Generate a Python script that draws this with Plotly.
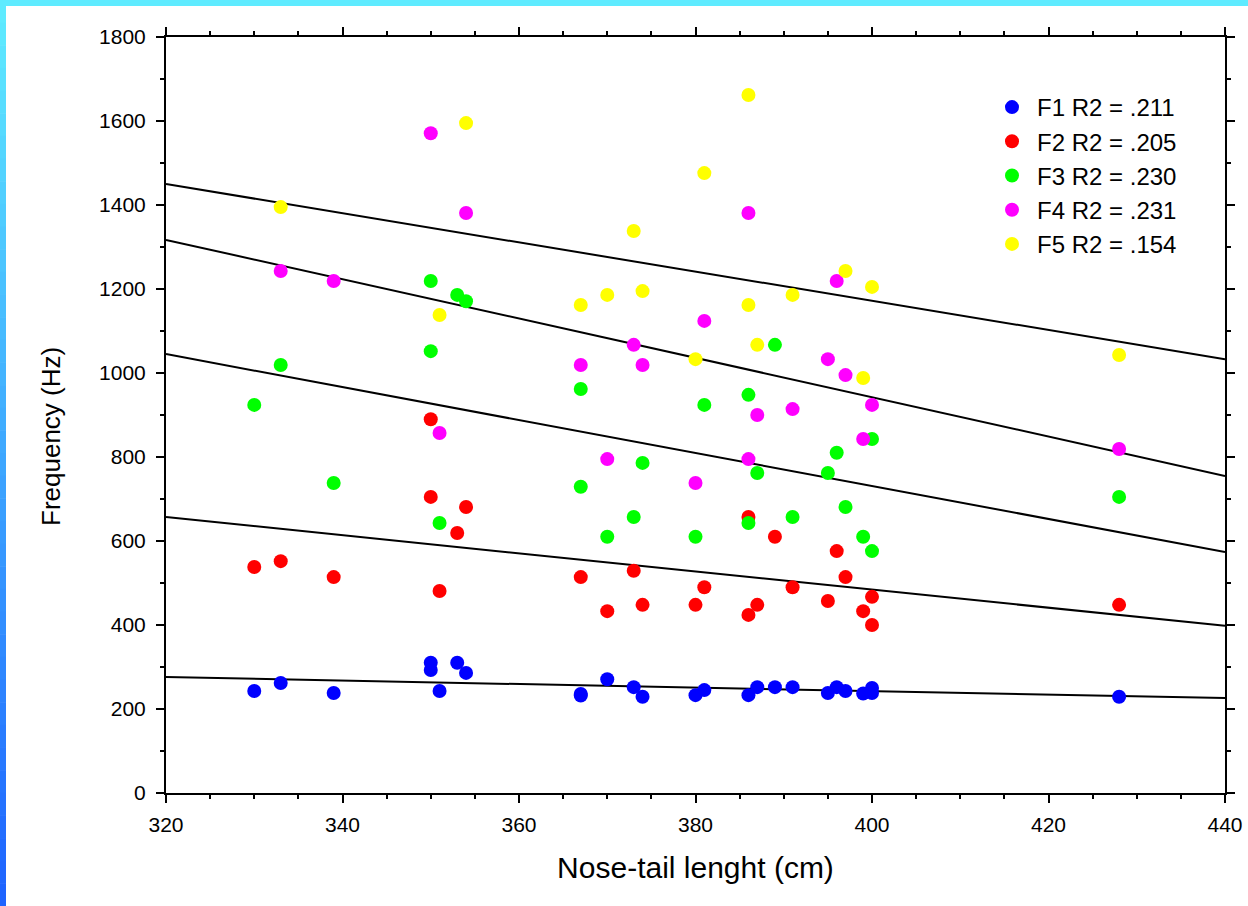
import plotly.graph_objects as go

# ---- data ----
length_cm = {
    "F1": [330, 333, 339, 350, 350, 351, 353, 354, 367, 367, 370, 373, 374, 380, 381,
           386, 387, 389, 391, 395, 396, 397, 399, 400, 400, 428],
    "F2": [330, 333, 339, 350, 350, 351, 353, 354, 367, 370, 373, 374, 380, 381, 386,
           386, 387, 389, 391, 395, 396, 397, 399, 400, 400, 428],
    "F3": [330, 333, 339, 350, 350, 351, 353, 354, 367, 367, 370, 373, 374, 380, 381,
           386, 386, 387, 389, 391, 395, 396, 397, 399, 400, 400, 428],
    "F4": [333, 339, 350, 351, 354, 367, 370, 373, 374, 380, 381, 386, 386, 387, 391,
           395, 396, 397, 399, 400, 428],
    "F5": [333, 351, 354, 367, 370, 373, 374, 380, 381, 386, 386, 387, 391, 397, 399,
           400, 428],
}
freq_hz = {
    "F1": [243, 262, 238, 310, 293, 243, 310, 286, 236, 232, 271, 252, 229, 233, 245,
           233, 252, 252, 252, 238, 252, 243, 237, 250, 238, 229],
    "F2": [538, 552, 514, 890, 705, 481, 619, 681, 514, 433, 529, 448, 448, 490, 424,
           657, 448, 610, 490, 457, 576, 514, 433, 467, 400, 448],
    "F3": [924, 1019, 738, 1219, 1052, 643, 1186, 1171, 962, 729, 610, 657, 786, 610, 924,
           948, 643, 762, 1067, 657, 762, 810, 681, 610, 843, 576, 705],
    "F4": [1243, 1219, 1571, 857, 1381, 1019, 795, 1067, 1019, 738, 1124, 1381, 795, 900, 914,
           1033, 1219, 995, 843, 924, 819],
    "F5": [1395, 1138, 1595, 1162, 1186, 1338, 1195, 1033, 1476, 1662, 1162, 1067, 1186, 1243, 988,
           1205, 1043],
}
r2_labels = {"F1": ".211", "F2": ".205", "F3": ".230", "F4": ".231", "F5": ".154"}
# regression lines: fitted frequency at both ends of the x range
fit_x = [320, 440]
fit_y = {
    "F1": [276, 226],
    "F2": [657, 398],
    "F3": [1045, 574],
    "F4": [1317, 755],
    "F5": [1450, 1033],
}
formants = ["F1", "F2", "F3", "F4", "F5"]
colors = {"F1": "#0000ff", "F2": "#ff0000", "F3": "#00ff00", "F4": "#ff00ff", "F5": "#ffff00"}

FONT = "Liberation Sans, Arial, sans-serif"

fig = go.Figure()
for f in formants:
    fig.add_trace(go.Scatter(x=fit_x, y=fit_y[f], mode="lines",
                             line=dict(color="black", width=2),
                             showlegend=False, hoverinfo="skip"))
for f in formants:
    fig.add_trace(go.Scatter(x=length_cm[f], y=freq_hz[f], mode="markers",
                             name=f"{f} R2 = {r2_labels[f]}",
                             marker=dict(color=colors[f], size=14, line=dict(width=0))))

W, H = 1248, 906
L, R, T, B = 166, 23, 37, 113
pw, ph = W - L - R, H - T - B


def px_x(p):
    return (p - L) / pw


def px_y(p):
    return (H - B - p) / ph


shapes = []
# top cyan band
shapes.append(dict(type="rect", xref="paper", yref="paper",
                   x0=px_x(0), x1=px_x(W), y0=px_y(6), y1=px_y(0),
                   fillcolor="#5eebff", line=dict(width=0), layer="above"))
# left gradient band (cyan at top to blue at bottom)
n = 40
top_c = (94, 235, 255)
bot_c = (30, 100, 255)
for i in range(n):
    t = i / (n - 1)
    c = tuple(int(round(top_c[k] + (bot_c[k] - top_c[k]) * t)) for k in range(3))
    y0p = H * i / n
    y1p = H * (i + 1) / n
    shapes.append(dict(type="rect", xref="paper", yref="paper",
                       x0=px_x(0), x1=px_x(6), y0=px_y(y1p + 0.5), y1=px_y(y0p),
                       fillcolor="rgb(%d,%d,%d)" % c, line=dict(width=0), layer="above"))

axis_common = dict(
    showgrid=False, zeroline=False, showline=True, linecolor="black", linewidth=2,
    mirror="ticks", ticks="outside", ticklen=8, tickwidth=1.5, tickcolor="black",
    tickfont=dict(family=FONT, size=21, color="black"),
)

fig.update_layout(
    width=W, height=H,
    margin=dict(l=L, r=R, t=T, b=B, autoexpand=False),
    paper_bgcolor="white", plot_bgcolor="white",
    font=dict(family=FONT, color="black"),
    xaxis=dict(range=[320, 440], dtick=20, tick0=320,
               minor=dict(dtick=5, ticks="outside", ticklen=4, tickwidth=1.5, tickcolor="black"),
               title=dict(text="Nose-tail lenght (cm)", font=dict(family=FONT, size=30), standoff=22),
               ticklabelstandoff=4,
               **axis_common),
    yaxis=dict(range=[0, 1800], dtick=200, tick0=0,
               minor=dict(dtick=100, ticks="outside", ticklen=4, tickwidth=1.5, tickcolor="black"),
               ticklabelstandoff=6,
               **axis_common),
    annotations=[dict(text="Frequency (Hz)", textangle=-90, showarrow=False,
                      xref="paper", yref="paper", x=px_x(51), y=px_y(437),
                      xanchor="center", yanchor="middle",
                      font=dict(family=FONT, size=26, color="black"))],
    legend=dict(x=px_x(987), y=px_y(85), xanchor="left", yanchor="top",
                bgcolor="rgba(0,0,0,0)", borderwidth=0,
                font=dict(family=FONT, size=24, color="black"),
                itemwidth=40),
    shapes=shapes,
)

fig.write_html("out.html")
